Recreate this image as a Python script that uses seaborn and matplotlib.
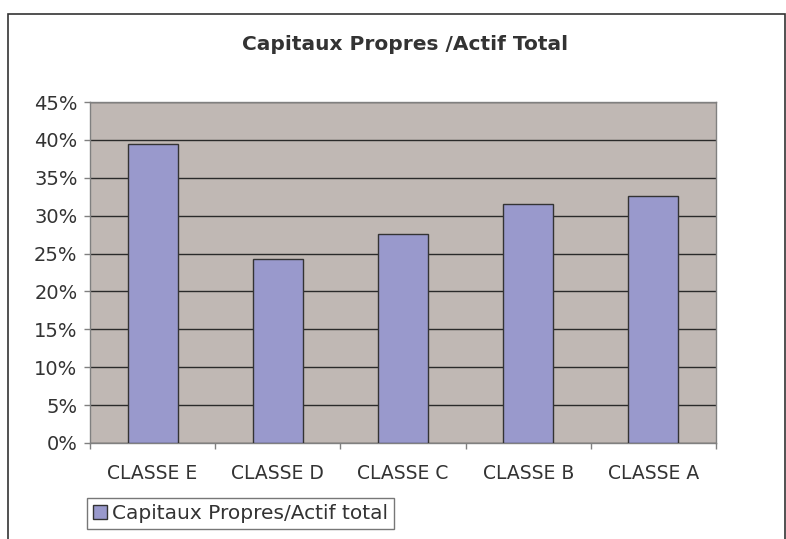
import matplotlib
matplotlib.use('Agg')
import matplotlib.pyplot as plt
import seaborn as sb
import pandas as pd
import numpy as np
from matplotlib.ticker import FixedLocator, PercentFormatter
from matplotlib.patches import Rectangle

# data
classes = ["CLASSE E", "CLASSE D", "CLASSE C", "CLASSE B", "CLASSE A"]
ratio = [39.4, 24.3, 27.6, 31.5, 32.6]
series_name = "Capitaux Propres/Actif total"

df = pd.DataFrame({"classe": classes, "ratio": ratio})

sb.set_style("white")
plt.rcParams['font.family'] = ['DejaVu Sans']
text_col = "#333333"

fig = plt.figure(figsize=(7.86, 5.39), dpi=100)
ax = fig.add_axes([90/786, 96/539, 626/786, 341/539])
ax.set_facecolor("#C0B8B4")

sb.barplot(x="classe", y="ratio", data=df, color="#9999CC", width=0.4,
           edgecolor="#333333", linewidth=1, saturation=1, ax=ax, zorder=3,
           label=series_name)

ax.set_ylim(0, 45)
ax.set_xlim(-0.5, len(classes) - 0.5)
ax.set_yticks(np.arange(0, 46, 5))
ax.yaxis.set_major_formatter(PercentFormatter(decimals=0))
ax.grid(axis="y", color="#2a2a2a", linewidth=1, zorder=1)
ax.set_axisbelow(True)
for s in ax.spines.values():
    s.set_color("#808080")
    s.set_linewidth(1)

ax.tick_params(axis="y", direction="out", length=4, width=1, color="#808080",
               pad=5, labelsize=14, labelcolor=text_col, left=True)
ax.tick_params(axis="x", which="major", length=0, pad=15, labelsize=13.5,
               labelcolor=text_col)
ax.xaxis.set_minor_locator(FixedLocator(np.arange(-0.5, len(classes), 1)))
ax.tick_params(axis="x", which="minor", direction="out", length=4, width=1,
               color="#808080", bottom=True)
ax.set_xlabel("")
ax.set_ylabel("")

fig.text(405/786, 1 - 44/539, "Capitaux Propres /Actif Total", ha="center",
         va="center", fontsize=14.5, fontweight="bold", color=text_col)

# chart border
fig.patches.append(Rectangle((8/786, -0.05), 777/786, 1.05 - 14/539,
                             transform=fig.transFigure, fill=False,
                             edgecolor="#333333", linewidth=1.2))

h, l = ax.get_legend_handles_labels()
if ax.get_legend() is not None:
    ax.get_legend().remove()
leg = fig.legend(h, l, loc="upper left", bbox_to_anchor=(87/786, 1 - 498/539),
                 frameon=True, fancybox=False, fontsize=14.5, handlelength=0.7,
                 handleheight=0.7, handletextpad=0.25, borderpad=0.3,
                 borderaxespad=0)
leg.get_frame().set_edgecolor("#555555")
leg.get_frame().set_linewidth(1)
for t in leg.get_texts():
    t.set_color(text_col)

fig.savefig("out.png", dpi=100)
